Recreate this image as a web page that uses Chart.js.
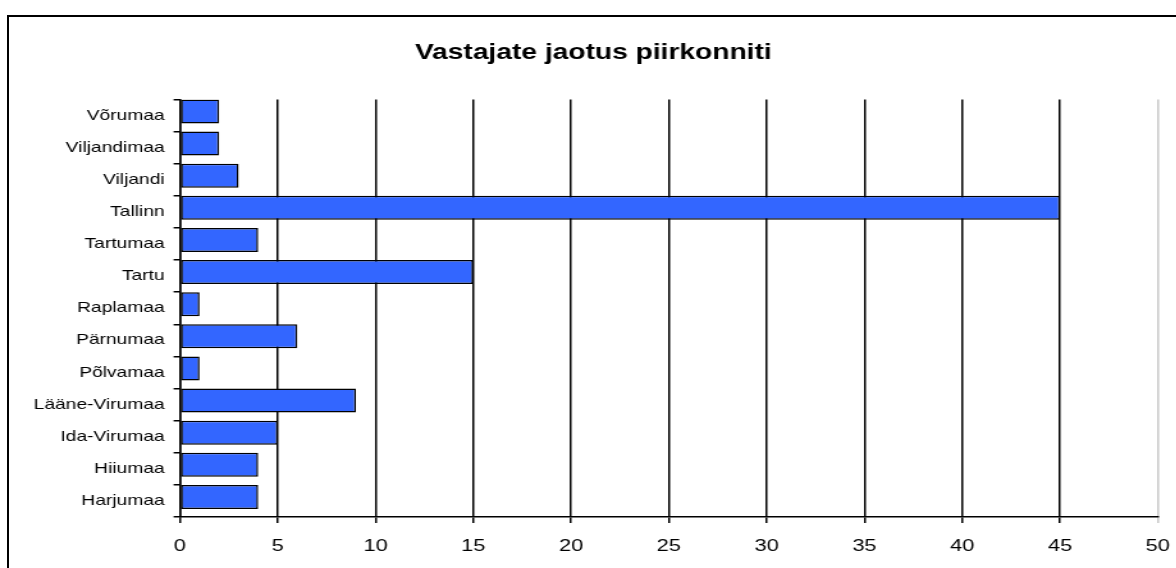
<!DOCTYPE html>
<html>
<head>
<meta charset="utf-8">
<script src="https://cdn.jsdelivr.net/npm/chart.js@4"></script>
<style>
  body { margin: 0; background: #fff; overflow: hidden; }
  #frame {
    position: absolute; left: 7px; top: 15px; width: 1200px; height: 600px;
    border-left: 2px solid #000; border-top: 2px solid #000; pointer-events: none;
  }
  /* the original picture is stretched sideways, so the canvas is too */
  #chart { position: absolute; left: 0; top: 0; transform: scaleX(1.28); transform-origin: 0 0; }
</style>
</head>
<body>
<canvas id="chart" width="927" height="568"></canvas>
<div id="frame"></div>
<script>
var chart_title = 'Vastajate jaotus piirkonniti';
var regions = ['Võrumaa', 'Viljandimaa', 'Viljandi', 'Tallinn', 'Tartumaa', 'Tartu', 'Raplamaa',
               'Pärnumaa', 'Põlvamaa', 'Lääne-Virumaa', 'Ida-Virumaa', 'Hiiumaa', 'Harjumaa'];
var respondents = [2, 2, 3, 45, 4, 15, 1, 6, 1, 9, 5, 4, 4];
var x_min = 0, x_max = 50, x_step = 5;

const ctx = document.getElementById('chart').getContext('2d');
const regionChart = new Chart(ctx, {
    type: 'bar',
    data: {
        labels: regions,
        datasets: [{
            data: respondents,
            backgroundColor: '#3366FF',
            borderColor: '#000000',
            borderWidth: 1.5,
            borderSkipped: false,
            categoryPercentage: 0.5,
            barPercentage: 3
        }, {
            // empty slot so the bars sit a little above the middle of their band, like the original
            data: regions.map(function() { return null; }),
            categoryPercentage: 0.5,
            barPercentage: 3
        }]
    },
    options: {
        indexAxis: 'y',
        responsive: false,
        animation: false,
        layout: { padding: 0 },
        plugins: {
            legend: { display: false },
            tooltip: { enabled: false },
            title: {
                display: true,
                text: chart_title,
                color: '#000',
                font: { family: 'Liberation Sans, Arial, sans-serif', size: 22, weight: 'bold' },
                padding: { top: 40, bottom: 33 }
            }
        },
        scales: {
            x: {
                min: x_min,
                max: x_max,
                ticks: {
                    stepSize: x_step,
                    color: '#000',
                    padding: 13,
                    font: { family: 'Liberation Sans, Arial, sans-serif', size: 17 }
                },
                grid: {
                    color: function(c) { return c.tick && c.tick.value === x_max ? '#c8c8c8' : '#000'; },
                    lineWidth: 1.5,
                    tickLength: 6
                },
                border: { color: '#000', width: 1.5 },
                afterFit: function(scale) { scale.height = 51; }
            },
            y: {
                ticks: {
                    color: '#000',
                    padding: 7,
                    font: { family: 'Liberation Sans, Arial, sans-serif', size: 15 }
                },
                grid: {
                    drawOnChartArea: false,
                    color: '#000',
                    lineWidth: 1.5,
                    tickLength: 5
                },
                border: { color: '#000', width: 1.5 },
                afterFit: function(scale) { scale.width = 140.6; }
            }
        }
    }
});
</script>
</body>
</html>
